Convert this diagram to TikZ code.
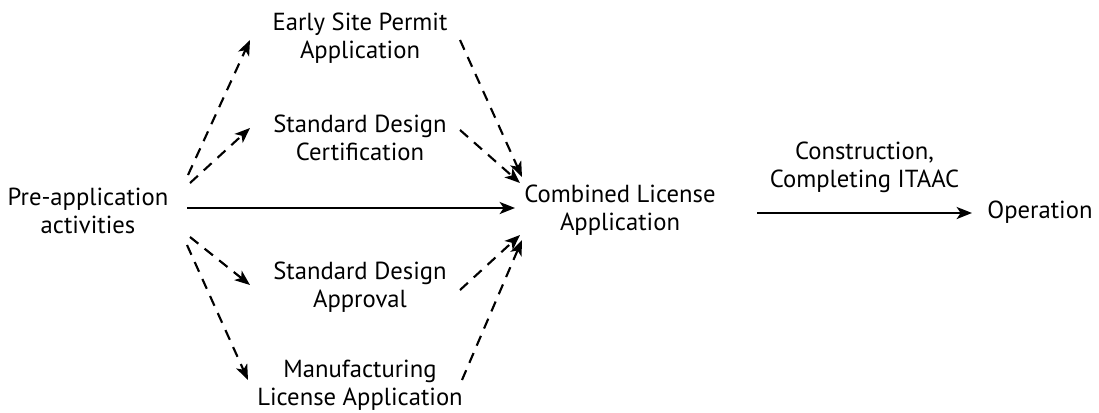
\documentclass[tikz,border=0pt]{standalone}
\usepackage{fontspec}
\setmainfont{PT Sans}
\usetikzlibrary{arrows.meta,calc}
\begin{document}
\begin{tikzpicture}[x=0.75pt,y=-0.75pt,
  lbl/.style={align=center,inner sep=0pt,font=\fontsize{18.5}{21}\selectfont},
  tip/.style={-{Stealth[length=11.5pt,width=9pt,inset=3pt]}},
  solidarrow/.style={tip,line width=1.7pt},
  dasharrow/.style={tip,line width=1.6pt,dash pattern=on 8pt off 6pt}]
\useasboundingbox (0,0) rectangle (1099,412);
\node[lbl] (pre) at (88,211) {Pre-application\\activities};
\node[lbl] (esp) at (360,38) {Early Site Permit\\Application};
\node[lbl] (sdc) at (360,138) {Standard Design\\Certification};
\node[lbl] (sda) at (360,287) {Standard Design\\Approval};
\node[lbl] (mla) at (360,385) {Manufacturing\\License Application};
\node[lbl] (comb) at (620,210) {Combined License\\Application};
\node[lbl] (op) at (1040,212) {Operation};
% left fan
\draw[dasharrow] ($(pre)+(100,-36)$) -- ($(esp)+(-110,2)$);
\draw[dasharrow] ($(pre)+(102,-28)$) -- ($(sdc)+(-110,-10)$);
\draw[solidarrow] ($(pre)+(99,-3)$) -- ($(comb)+(-105,-2)$);
\draw[dasharrow] ($(pre)+(102,26)$) -- ($(sda)+(-110,-2)$);
\draw[dasharrow] ($(pre)+(99,34)$) -- ($(mla)+(-112,-5)$);
% right fan
\draw[dasharrow] ($(esp)+(100,2)$) -- ($(comb)+(-98,-33)$);
\draw[dasharrow] ($(sdc)+(100,-8)$) -- ($(comb)+(-100,-27)$);
\draw[dasharrow] ($(sda)+(100,3)$) -- ($(comb)+(-100,25)$);
\draw[dasharrow] ($(mla)+(102,-5)$) -- ($(comb)+(-98,30)$);
% to operation
\draw[solidarrow] ($(comb)+(137,3)$) -- node[lbl,above=14pt] (lab) {Construction,\\Completing ITAAC} ($(op)+(-68,1)$);
\end{tikzpicture}
\end{document}
